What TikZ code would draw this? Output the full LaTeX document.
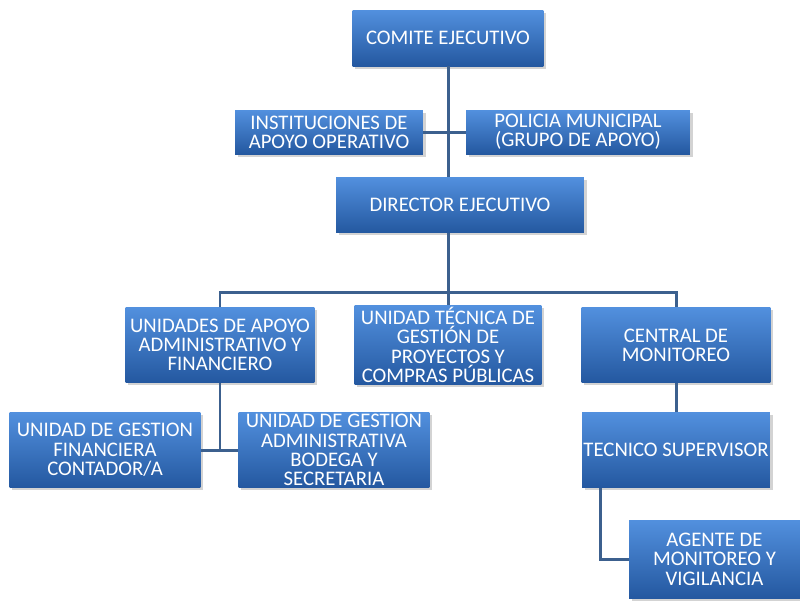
\documentclass[tikz,border=0pt]{standalone}
\usepackage{fontspec}
\setmainfont{Carlito}
\usetikzlibrary{shadows}
\definecolor{boxtop}{RGB}{82,144,222}
\definecolor{boxbot}{RGB}{36,88,160}
\definecolor{linkblue}{RGB}{60,96,142}
\tikzset{
  unitbox/.style={rectangle, top color=boxtop, bottom color=boxbot, text=white,
    align=center, inner xsep=0pt, inner ysep=1pt,
    font=\fontsize{11.8}{11}\selectfont,
    drop shadow={opacity=0.35, shadow xshift=1.5pt, shadow yshift=-1.5pt}},
  link/.style={draw=linkblue, line width=1.7pt}
}
\begin{document}
\begin{tikzpicture}[x=0.02cm,y=-0.02cm]
\useasboundingbox (0,0) rectangle (800,600);
% top levels
\node[unitbox, minimum width=3.82cm, minimum height=1.12cm] (comite) at (448,38) {COMITE EJECUTIVO};
\node[unitbox, minimum width=3.76cm, minimum height=0.88cm] (inst) at (329,132) {INSTITUCIONES DE\\APOYO OPERATIVO};
\node[unitbox, minimum width=4.48cm, minimum height=0.88cm] (policia) at (578,132) {POLICIA MUNICIPAL\\(GRUPO DE APOYO)};
\node[unitbox, minimum width=4.96cm, minimum height=1.1cm] (director) at (460,205) {DIRECTOR EJECUTIVO};
% units
\node[unitbox, minimum width=3.78cm, minimum height=1.5cm] (unidades) at (220,345) {UNIDADES DE APOYO\\ADMINISTRATIVO Y\\FINANCIERO};
\node[unitbox, minimum width=3.74cm, minimum height=1.5cm] (tecnica) at (448,345) {UNIDAD TÉCNICA DE\\GESTIÓN DE\\PROYECTOS Y\\COMPRAS PÚBLICAS};
\node[unitbox, minimum width=3.78cm, minimum height=1.5cm] (central) at (676,345) {CENTRAL DE\\MONITOREO};
\node[unitbox, minimum width=3.82cm, minimum height=1.5cm] (financiera) at (105,450) {UNIDAD DE GESTION\\FINANCIERA\\CONTADOR/A};
\node[unitbox, minimum width=3.82cm, minimum height=1.5cm] (admin) at (334,450) {UNIDAD DE GESTION\\ADMINISTRATIVA\\BODEGA Y\\SECRETARIA};
\node[unitbox, minimum width=3.76cm, minimum height=1.5cm] (supervisor) at (676,450) {TECNICO SUPERVISOR};
\node[unitbox, minimum width=3.42cm, minimum height=1.56cm] (agente) at (714.5,559) {AGENTE DE\\MONITOREO Y\\VIGILANCIA};
\coordinate (busmid) at (448,292);
% connectors
\draw[link] (comite.south) -- (comite.south |- director.north);
\draw[link] (inst.east) -- (policia.west);
\draw[link] (busmid |- director.south) -- (busmid);
\draw[link] (unidades.north) -- (unidades.north |- busmid) -- (central.north |- busmid) -- (central.north);
\draw[link] (busmid) -- (tecnica.north);
\draw[link] (unidades.south) -- (unidades.south |- financiera.east);
\draw[link] (financiera.east) -- (admin.west);
\draw[link] (central.south) -- (supervisor.north);
\draw[link] ([xshift=0.38cm]supervisor.south west) |- (agente.west);
\end{tikzpicture}
\end{document}
